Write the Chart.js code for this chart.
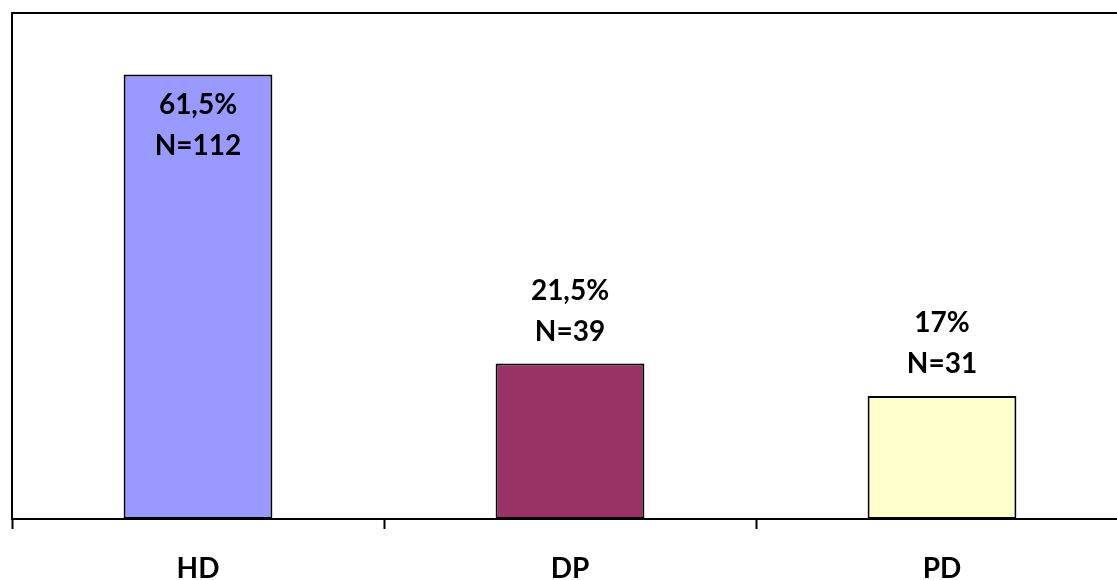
<!DOCTYPE html>
<html>
<head>
<meta charset="utf-8">
<script src="https://cdn.jsdelivr.net/npm/chart.js@4"></script>
<style>
  html, body { margin: 0; padding: 0; background: #fff; overflow: hidden; }
  #wrap { width: 1130px; height: 580px; }
</style>
</head>
<body>
<div id="wrap"><canvas id="c" width="1130" height="580"></canvas></div>
<script>
// Treatment modality shares
const categories = ['HD', 'DP', 'PD'];
const percentages = [61.5, 21.5, 17];
const counts = [112, 39, 31];
const barColors = ['#9999FF', '#993366', '#FFFFCC'];

const FONT = 'Lato, "Open Sans", sans-serif';

function fmtPct(v) {
  return String(v).replace('.', ',') + '%';
}

// Frame on the top and left of the plot area
const framePlugin = {
  id: 'frame',
  afterDraw(chart) {
    const { ctx, chartArea: a } = chart;
    ctx.save();
    ctx.strokeStyle = '#000';
    ctx.lineWidth = 2;
    ctx.beginPath();
    ctx.moveTo(a.left, a.bottom);
    ctx.lineTo(a.left, a.top);
    ctx.lineTo(a.right, a.top);
    ctx.stroke();
    ctx.restore();
  }
};

// Two-line value labels: percentage and count
const labelPlugin = {
  id: 'valueLabels',
  afterDatasetsDraw(chart) {
    const { ctx, chartArea: a } = chart;
    const meta = chart.getDatasetMeta(0);
    ctx.save();
    ctx.font = 'bold 28px ' + FONT;
    ctx.fillStyle = '#000';
    ctx.textAlign = 'center';
    ctx.textBaseline = 'middle';
    meta.data.forEach((bar, i) => {
      const lineGap = 41;
      let y2 = bar.y - 32;
      if (y2 - lineGap - 15 < a.top) {
        y2 = bar.y + 72; // no room above: place inside the bar
      }
      ctx.fillText(fmtPct(percentages[i]), bar.x, y2 - lineGap);
      ctx.fillText('N=' + counts[i], bar.x, y2);
    });
    ctx.restore();
  }
};

new Chart(document.getElementById('c'), {
  type: 'bar',
  data: {
    labels: categories,
    datasets: [{
      data: percentages,
      backgroundColor: barColors,
      borderColor: '#000',
      borderWidth: 2,
      borderSkipped: false,
      categoryPercentage: 1.0,
      barPercentage: 0.4
    }]
  },
  options: {
    responsive: false,
    animation: false,
    layout: { padding: { left: 12, top: 13, right: 2, bottom: 0 } },
    plugins: {
      legend: { display: false },
      tooltip: { enabled: false }
    },
    scales: {
      y: {
        display: false,
        min: 0,
        max: 70
      },
      x: {
        offset: true,
        grid: {
          offset: true,
          drawOnChartArea: false,
          drawTicks: true,
          tickLength: 10,
          tickColor: '#000',
          tickWidth: 2
        },
        border: { display: true, color: '#000', width: 2 },
        ticks: {
          color: '#000',
          padding: 23,
          font: { family: FONT, size: 28, weight: 'bold' }
        },
        afterFit(scale) { scale.height = 61; }
      }
    }
  },
  plugins: [framePlugin, labelPlugin]
});
</script>
</body>
</html>
